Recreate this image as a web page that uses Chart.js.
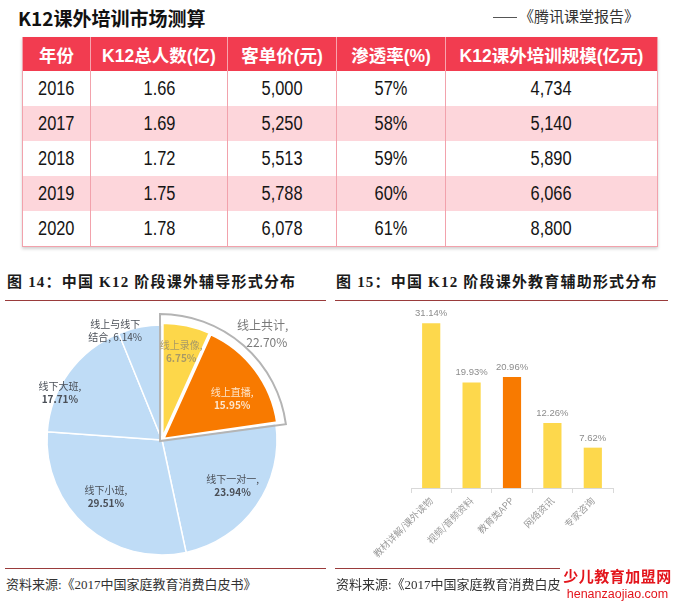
<!DOCTYPE html>
<html>
<head>
<meta charset="utf-8">
<script src="https://cdn.jsdelivr.net/npm/chart.js@4.4.1/dist/chart.umd.min.js"></script>
<style>
  body { margin: 0; width: 675px; height: 608px; background: #fff; position: relative; overflow: hidden;
         font-family: "Noto Sans CJK SC", sans-serif; }
  .abs { position: absolute; white-space: nowrap; }
  #title { left: 18px; top: 4px; font-size: 19px; font-weight: bold; color: #111; }
  #ref { left: 493px; top: 5px; font-size: 15px; color: #333; }
  #ref .dash { display: inline-block; width: 24px; height: 1px; background: #555; vertical-align: middle; margin-right: 2px; }
  table { position: absolute; left: 22px; top: 37px; width: 630px; border-collapse: collapse; table-layout: fixed;
          box-shadow: 0 2px 3px rgba(0,0,0,0.18); }
  th { background: #f23c50; color: #fff; height: 34px; font-size: 17.5px; font-weight: bold; padding: 0;
       border-left: 1px solid #f8a4ae; font-family: "Liberation Sans", "Noto Sans CJK SC", sans-serif; }
  td { height: 35px; padding: 0; text-align: center; font-size: 20px; color: #151515;
       border-left: 1px solid #f2a2ac; font-family: "Liberation Sans", sans-serif; }
  td span { display: inline-block; transform: scaleX(0.82); }
  th:first-child, td:first-child { border-left: 1px solid #f2a2ac; }
  th:last-child, td:last-child { border-right: 1px solid #f2a2ac; }
  tr:last-child td { border-bottom: 1px solid #f2a2ac; }
  tbody tr:nth-child(even) td { background: #fdd6db; }
  .head { top: 270px; font-size: 15px; font-weight: bold; color: #1a1a1a; letter-spacing: 1.2px;
          font-family: "Liberation Serif", "Noto Sans CJK SC", serif; }
  .rule { position: absolute; height: 1px; background: #9a3b3b; }
  .src { top: 574px; font-size: 13px; color: #333; font-family: "Liberation Serif", "Noto Sans CJK SC", serif; }
  #pieBox { position: absolute; left: 0; top: 310px; width: 324px; height: 260px; }
  #barBox { position: absolute; left: 330px; top: 300px; width: 345px; height: 262px; }
  #wm { left: 560px; top: 568px; width: 115px; background: #fff; color: #e3151c; text-align: center; line-height: 1; }
  #wm .cn { font-size: 15px; font-weight: bold; letter-spacing: 0.5px; }
  #wm .en { font-size: 12.5px; font-family: "Liberation Sans", sans-serif; margin-top: 5px; }
</style>
</head>
<body>
<div id="title" class="abs">K12课外培训市场测算</div>
<div id="ref" class="abs"><span class="dash"></span>《腾讯课堂报告》</div>
<table id="tbl"><thead><tr id="thead"></tr></thead><tbody id="tbody"></tbody></table>

<div class="abs head" style="left:7px;">图 14：中国 K12 阶段课外辅导形式分布</div>
<div class="abs head" style="left:336px;">图 15：中国 K12 阶段课外教育辅助形式分布</div>
<div class="rule" style="left:5px; top:300px; width:321px;"></div>
<div class="rule" style="left:335px; top:300px; width:333px;"></div>

<div id="pieBox"><canvas id="pieChart"></canvas></div>
<div id="barBox"><canvas id="barChart"></canvas></div>

<div class="rule" style="left:5px; top:568px; width:321px;"></div>
<div class="rule" style="left:335px; top:568px; width:333px;"></div>
<div class="abs src" style="left:6px;">资料来源:《2017中国家庭教育消费白皮书》</div>
<div class="abs src" style="left:336px;">资料来源:《2017中国家庭教育消费白皮书》</div>
<div id="wm" class="abs"><div class="cn">少儿教育加盟网</div><div class="en">henanzaojiao.com</div></div>

<script>
// table data
const tableHeaders = ['年份', 'K12总人数(亿)', '客单价(元)', '渗透率(%)', 'K12课外培训规模(亿元)'];
const years = ['2016', '2017', '2018', '2019', '2020'];
const k12Population = [1.66, 1.69, 1.72, 1.75, 1.78];
const unitPrice = [5000, 5250, 5513, 5788, 6078];
const penetration = [57, 58, 59, 60, 61];
const marketSize = [4734, 5140, 5890, 6066, 8800];

// pie data (图 14)
const pieLabels = ['线上录像', '线上直播', '线下一对一', '线下小班', '线下大班', '线上与线下\n结合'];
const pieValues = [6.75, 15.95, 23.94, 29.51, 17.71, 6.14];

// bar data (图 15)
const barLabels = ['教材详解/课外读物', '视频/音频资料', '教育类APP', '网络资讯', '专家咨询'];
const barValues = [31.14, 19.93, 20.96, 12.26, 7.62];

const colWidths = [67, 136, 108, 108, 211];
const fmt = n => n.toLocaleString('en-US');

const headRow = document.getElementById('thead');
tableHeaders.forEach((h, i) => {
    const th = document.createElement('th');
    th.style.width = colWidths[i] + 'px';
    th.textContent = h;
    headRow.appendChild(th);
});
const tbody = document.getElementById('tbody');
years.forEach((y, i) => {
    const tr = document.createElement('tr');
    [y, k12Population[i].toFixed(2), fmt(unitPrice[i]), penetration[i] + '%', fmt(marketSize[i])].forEach(v => {
        const td = document.createElement('td');
        const sp = document.createElement('span');
        sp.textContent = v;
        td.appendChild(sp);
        tr.appendChild(td);
    });
    tbody.appendChild(tr);
});

// pie styling
const blue = '#bfdcf6';
const pieColors = [ '#fdd74a', '#f87a00', blue, blue, blue, blue ];
const pieTextColors = ['#a99a66', '#fde6cc', '#4a4f57', '#4a4f57', '#4a4f57', '#4a4f57'];
const pieLabelRadius = [0.74, 0.66, 0.73, 0.69, 0.98, 1.04];
const pieLabelTurn = [0, 6, -2, 4, -11, -12];

const pieLabelPlugin = {
    id: 'pieLabels',
    afterDatasetsDraw(chart) {
        const ctx = chart.ctx;
        const meta = chart.getDatasetMeta(0);
        const arcs = meta.data;
        ctx.save();
        // outline around the online group
        const a0 = arcs[0], a1 = arcs[1];
        ctx.beginPath();
        ctx.moveTo(a0.x - 2, a0.y + 1);
        ctx.arc(a0.x - 2, a0.y + 1, a0.outerRadius + 12, a0.startAngle, a1.endAngle + 0.012);
        ctx.closePath();
        ctx.strokeStyle = '#b4b4b4';
        ctx.lineWidth = 2;
        ctx.stroke();

        ctx.textAlign = 'center';
        ctx.textBaseline = 'middle';
        arcs.forEach((arc, i) => {
            const mid = (arc.startAngle + arc.endAngle) / 2 + pieLabelTurn[i] * Math.PI / 180;
            const off = arc.options.offset || 0;
            const r = arc.outerRadius * pieLabelRadius[i] + off;
            const x = arc.x + Math.cos(mid) * r;
            const y = arc.y + Math.sin(mid) * r;
            const name = pieLabels[i];
            const pct = pieValues[i].toFixed(2) + '%';
            let lines;
            if (name.includes('\n')) {
                const parts = name.split('\n');
                lines = [parts[0], parts[1] + ', ' + pct];
            } else {
                lines = [name + ',', pct];
            }
            ctx.fillStyle = pieTextColors[i];
            ctx.font = '10px "Noto Sans CJK SC", sans-serif';
            ctx.fillText(lines[0], x, y - 6);
            ctx.font = (name.includes('\n') ? '' : 'bold ') + '10px "Noto Sans CJK SC", sans-serif';
            ctx.fillText(lines[1], x, y + 7);
        });

        // group total label
        const onlineTotal = pieValues[0] + pieValues[1];
        const gMid = (a0.startAngle + a1.endAngle) / 2 + 3 * Math.PI / 180;
        const gr = a0.outerRadius * 1.29;
        const gx = a0.x + Math.cos(gMid) * gr;
        const gy = a0.y + Math.sin(gMid) * gr;
        ctx.fillStyle = '#7a7a7a';
        ctx.font = '12px "Noto Sans CJK SC", sans-serif';
        ctx.fillText('线上共计,', gx - 2, gy - 8);
        ctx.fillText(onlineTotal.toFixed(2) + '%', gx + 2, gy + 9);
        ctx.restore();
    }
};

new Chart(document.getElementById('pieChart').getContext('2d'), {
    type: 'pie',
    data: {
        labels: pieLabels,
        datasets: [{
            data: pieValues,
            backgroundColor: pieColors,
            borderColor: '#ffffff',
            borderWidth: [2.5, 2.5, 1.5, 1.5, 1.5, 1.5],
            offset: [6, 6, 0, 0, 0, 0]
        }]
    },
    options: {
        responsive: true,
        maintainAspectRatio: false,
        animation: false,
        radius: 115,
        layout: { padding: 0 },
        plugins: { legend: { display: false }, tooltip: { enabled: false } }
    },
    plugins: [pieLabelPlugin]
});

// bar styling
const barColors = ['#fdd84c', '#fdd84c', '#f87a00', '#fdd84c', '#fdd84c'];

const barValuePlugin = {
    id: 'barValues',
    afterDatasetsDraw(chart) {
        const ctx = chart.ctx;
        ctx.save();
        ctx.fillStyle = '#8c8c8c';
        ctx.font = '9.5px "Liberation Sans", sans-serif';
        ctx.textAlign = 'center';
        ctx.textBaseline = 'bottom';
        chart.getDatasetMeta(0).data.forEach((bar, i) => {
            ctx.fillText(barValues[i].toFixed(2) + '%', bar.x, bar.y - 5);
        });
        ctx.restore();
    }
};

new Chart(document.getElementById('barChart').getContext('2d'), {
    type: 'bar',
    data: {
        labels: barLabels,
        datasets: [{
            data: barValues,
            backgroundColor: barColors,
            categoryPercentage: 1,
            barPercentage: 0.45
        }]
    },
    options: {
        responsive: true,
        maintainAspectRatio: false,
        animation: false,
        layout: { padding: { left: 81, right: 62, top: 8, bottom: 0 } },
        plugins: { legend: { display: false }, tooltip: { enabled: false } },
        scales: {
            y: { display: false, min: 0, max: 34 },
            x: {
                afterFit(scale) { scale.height = 74; },
                border: { color: '#d9d9d9' },
                grid: { drawOnChartArea: false, color: '#d9d9d9', tickLength: 5 },
                ticks: {
                    minRotation: 45, maxRotation: 45, padding: 2,
                    color: '#9a9a9a',
                    font: { size: 9.5, family: '"Noto Sans CJK SC", sans-serif' }
                }
            }
        }
    },
    plugins: [barValuePlugin]
});
</script>
</body>
</html>
